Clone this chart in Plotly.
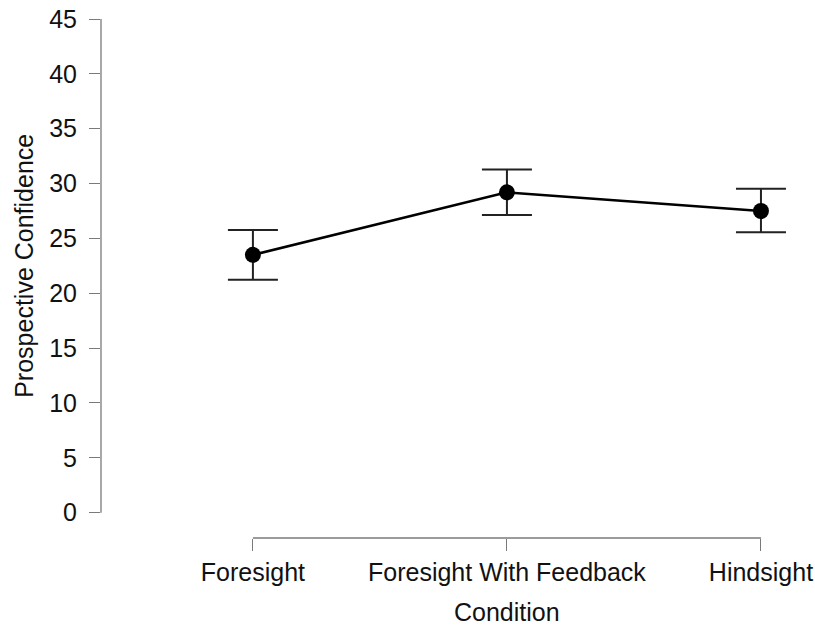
import plotly.graph_objects as go

# Mean prospective confidence by condition, with error bar half-widths
conditions = ["Foresight", "Foresight With Feedback", "Hindsight"]
means = [23.5, 29.2, 27.5]
err_upper = [2.27, 2.09, 2.03]
err_lower = [2.28, 2.07, 1.95]
y_ticks = [0, 5, 10, 15, 20, 25, 30, 35, 40, 45]

FONT = dict(family="Liberation Sans, Arial, sans-serif", size=25, color="#111111")
AXIS_GRAY = "#7a7a7a"

x_idx = list(range(len(conditions)))

fig = go.Figure()
fig.add_trace(go.Scatter(
    x=x_idx,
    y=means,
    mode="lines+markers",
    line=dict(color="black", width=2.5),
    marker=dict(color="black", size=16),
    error_y=dict(
        type="data",
        symmetric=False,
        array=err_upper,
        arrayminus=err_lower,
        color="#222222",
        thickness=2,
        width=25,
    ),
    cliponaxis=False,
    showlegend=False,
))

# Axis lines spanning only the data ranges
fig.add_shape(type="line", xref="paper", yref="y", x0=0, x1=0,
              y0=y_ticks[0], y1=y_ticks[-1], line=dict(color=AXIS_GRAY, width=1.3))
fig.add_shape(type="line", xref="x", yref="paper", x0=x_idx[0], x1=x_idx[-1],
              y0=0, y1=0, line=dict(color=AXIS_GRAY, width=1.3))

fig.add_annotation(text="Prospective Confidence", xref="paper", yref="y",
                   x=0, y=22.5, xshift=-77, textangle=-90, showarrow=False,
                   xanchor="center", yanchor="middle", font=FONT)
fig.add_annotation(text="Condition", xref="x", yref="paper",
                   x=1, y=0, yshift=-74, showarrow=False,
                   xanchor="center", yanchor="middle", font=FONT)

fig.update_xaxes(
    range=[-0.598, 2.134],
    tickvals=x_idx,
    ticktext=conditions,
    ticks="outside",
    ticklen=12,
    tickwidth=1.3,
    tickcolor=AXIS_GRAY,
    showline=False,
    showgrid=False,
    zeroline=False,
    tickfont=FONT,
    ticklabelstandoff=0,
    automargin=False,
)
fig.update_yaxes(
    range=[-2.31, 45],
    tickvals=y_ticks,
    ticks="outside",
    ticklen=11,
    tickwidth=1.3,
    tickcolor=AXIS_GRAY,
    showline=False,
    showgrid=False,
    zeroline=False,
    tickfont=FONT,
    ticklabelstandoff=7,
    automargin=False,
)

fig.update_layout(
    width=815,
    height=628,
    margin=dict(l=101, r=20, t=19, b=90, autoexpand=False),
    plot_bgcolor="white",
    paper_bgcolor="white",
    font=FONT,
)

fig.write_html("out.html")
